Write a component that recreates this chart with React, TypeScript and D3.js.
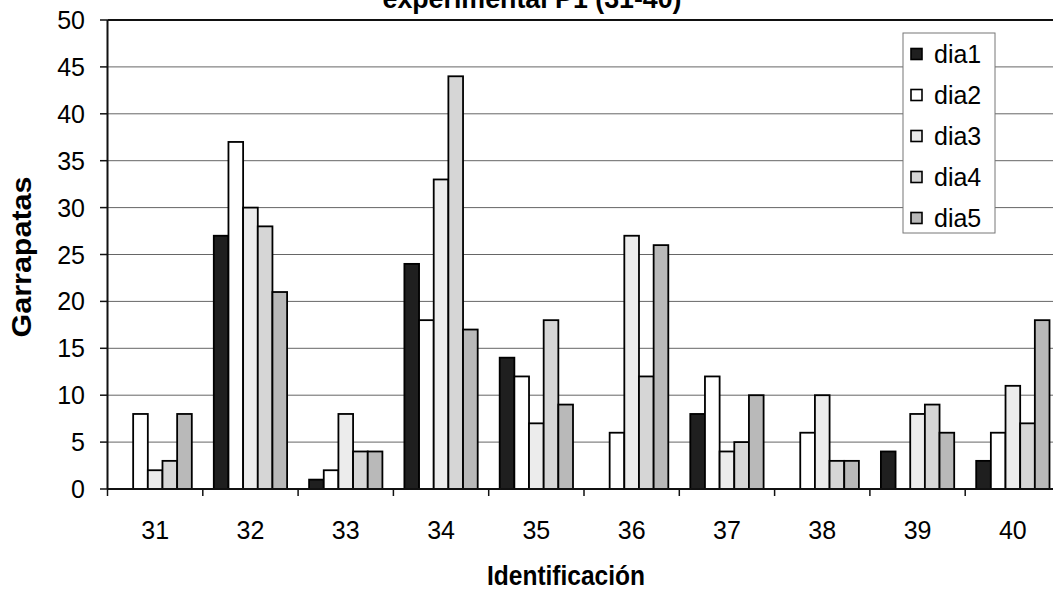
import React from "react";
import * as d3 from "d3";

const categories = ["31", "32", "33", "34", "35", "36", "37", "38", "39", "40"];
const seriesNames = ["dia1", "dia2", "dia3", "dia4", "dia5"];
const dia1 = [0, 27, 1, 24, 14, 0, 8, 0, 4, 3];
const dia2 = [8, 37, 2, 18, 12, 6, 12, 6, 0, 6];
const dia3 = [2, 30, 8, 33, 7, 27, 4, 10, 8, 11];
const dia4 = [3, 28, 4, 44, 18, 12, 5, 3, 9, 7];
const dia5 = [8, 21, 4, 17, 9, 26, 10, 3, 6, 18];
const seriesValues = [dia1, dia2, dia3, dia4, dia5];
const yTicks = [0, 5, 10, 15, 20, 25, 30, 35, 40, 45, 50];
const fills = ["#1f1f1f", "#ffffff", "#ececec", "#d6d6d6", "#b9b9b9"];

const W = 1053;
const H = 594;
const left = 107.5;
const right = 1060.5;
const top = 20;
const bottom = 489;
const FONT = "'Liberation Sans', Arial, sans-serif";

export default function App() {
  const x0 = d3.scaleBand<string>().domain(categories).range([left, right]).padding(0);
  const x1 = d3
    .scaleBand<string>()
    .domain(seriesNames)
    .range([0, x0.bandwidth()])
    .paddingInner(0)
    .paddingOuter(0.75);
  const y = d3.scaleLinear().domain([0, 50]).range([bottom, top]);

  const legendRows = seriesNames.map((s, i) => ({ s, i, cy: 54 + i * 41 }));

  return (
    <svg
      width={W}
      height={H}
      style={{ position: "absolute", left: 0, top: 0, background: "#fff" }}
      fontFamily={FONT}
    >
      <rect x={0} y={0} width={W} height={H} fill="#fff" />
      {/* title (cut off at top, as in the reference) */}
      <text
        x={532}
        y={8}
        textAnchor="middle"
        fontSize={28}
        fontWeight="bold"
        textLength={299}
        lengthAdjust="spacingAndGlyphs"
        fill="#000"
      >
        experimental P1 (31-40)
      </text>

      {/* gridlines */}
      {yTicks.map((t) => (
        <line
          key={"g" + t}
          x1={left}
          x2={right}
          y1={y(t)}
          y2={y(t)}
          stroke="#666"
          strokeWidth={1}
        />
      ))}

      {/* bars */}
      {categories.map((c, ci) => (
        <g key={c} transform={`translate(${x0(c)},0)`}>
          {seriesNames.map((s, si) => {
            const v = seriesValues[si][ci];
            if (v <= 0) return null;
            return (
              <rect
                key={s}
                x={x1(s)}
                y={y(v)}
                width={x1.bandwidth()}
                height={y(0) - y(v)}
                fill={fills[si]}
                stroke="#000"
                strokeWidth={1.8}
              />
            );
          })}
        </g>
      ))}

      {/* plot border / axes */}
      <line x1={left} x2={right} y1={top} y2={top} stroke="#111" strokeWidth={2} />
      <line x1={left} x2={left} y1={top} y2={bottom} stroke="#111" strokeWidth={2} />
      <line x1={left} x2={right} y1={bottom} y2={bottom} stroke="#111" strokeWidth={2} />

      {/* y ticks and labels */}
      {yTicks.map((t) => (
        <g key={"y" + t}>
          <line x1={100} x2={left} y1={y(t)} y2={y(t)} stroke="#111" strokeWidth={1.5} />
          <text
            x={85}
            y={y(t)}
            dy="0.36em"
            textAnchor="end"
            fontSize={25}
            fill="#000"
          >
            {t}
          </text>
        </g>
      ))}

      {/* x ticks and labels */}
      {categories.map((c) => (
        <g key={"x" + c}>
          <line
            x1={x0(c)!}
            x2={x0(c)!}
            y1={bottom}
            y2={bottom + 7}
            stroke="#111"
            strokeWidth={1.5}
          />
          <text
            x={x0(c)! + x0.bandwidth() / 2}
            y={539}
            textAnchor="middle"
            fontSize={25}
            fill="#000"
          >
            {c}
          </text>
        </g>
      ))}

      {/* axis titles */}
      <text
        x={566}
        y={585}
        textAnchor="middle"
        fontSize={28}
        fontWeight="bold"
        textLength={158}
        lengthAdjust="spacingAndGlyphs"
        fill="#000"
      >
        Identificación
      </text>
      <text
        transform="translate(31,257) rotate(-90)"
        textAnchor="middle"
        fontSize={28}
        fontWeight="bold"
        textLength={161}
        lengthAdjust="spacingAndGlyphs"
        fill="#000"
      >
        Garrapatas
      </text>

      {/* legend */}
      <rect x={903} y={33} width={92} height={200} fill="#fff" stroke="#777" strokeWidth={1} />
      {legendRows.map(({ s, i, cy }) => (
        <g key={"l" + s}>
          <rect
            x={911}
            y={cy - 5.5}
            width={11}
            height={11}
            fill={fills[i]}
            stroke="#000"
            strokeWidth={1.6}
          />
          <text x={934} y={cy} dy="0.36em" fontSize={25} fill="#000">
            {s}
          </text>
        </g>
      ))}
    </svg>
  );
}
